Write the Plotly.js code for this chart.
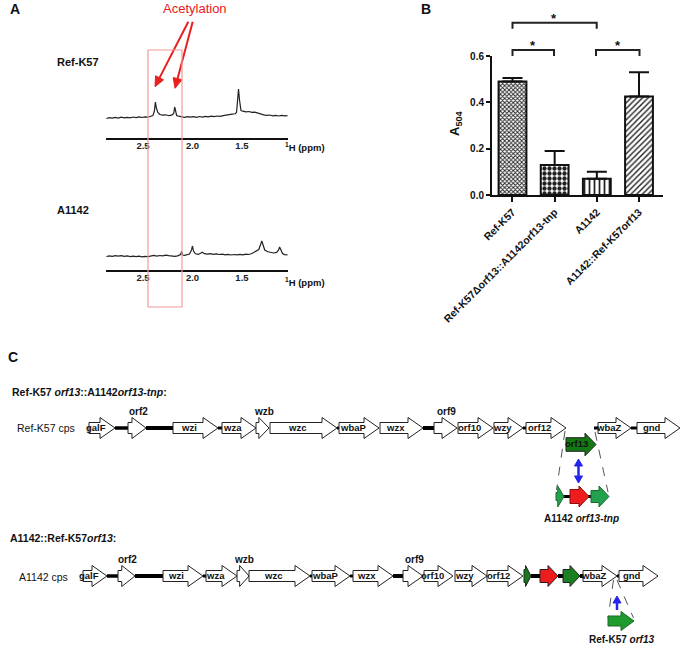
<!DOCTYPE html>
<html><head><meta charset="utf-8">
<script src="https://cdn.plot.ly/plotly-3.0.1.min.js"></script>
<style>html,body{margin:0;padding:0;background:#fff}#chart{width:685px;height:648px}</style>
</head><body><div id="chart"></div>
<script>
// ---------------- DATA ----------------
// Panel A: 1H NMR spectra (ppm, intensity in arbitrary units)
const topPpm = [2.87,2.84,2.81,2.78,2.75,2.72,2.69,2.66,2.63,2.60,2.57,2.54,2.51,2.48,2.45,2.42,
  2.40,2.385,2.375,2.365,2.35,2.33,2.30,2.27,2.24,2.21,
  2.19,2.18,2.17,2.16,2.14,2.11,2.08,2.05,2.02,1.99,
  1.96,1.93,1.90,1.87,1.84,1.81,1.78,1.75,1.72,1.69,
  1.66,1.63,1.60,1.57,1.555,1.545,1.535,1.525,1.51,1.49,
  1.46,1.43,1.40,1.37,1.34,1.31,1.28,1.25,1.22,1.19,
  1.16,1.13,1.10,1.07,1.04];
const topInt = [19.5,20.3,19.8,20.6,19.9,20.8,20.1,20.7,20.2,21.0,20.4,21.1,20.5,21.2,20.8,21.6,
  22.4,27,36,30,25.5,23.5,22.8,23.2,22.3,22.9,
  24.5,31,27,22.5,21.8,21.3,20.6,21.4,20.8,21.3,
  20.7,21.5,20.9,21.6,21.1,21.8,21.3,22.0,21.6,22.4,
  22.6,23.4,23.8,24.2,25.5,40,49,38,27.5,26.8,
  26.2,26.5,25.6,25.9,24.8,24.2,23.1,22.6,23.0,22.2,
  22.7,22.0,22.6,22.1,22.4];
const botPpm = [2.87,2.84,2.81,2.78,2.75,2.72,2.69,2.66,2.63,2.60,2.57,2.54,2.51,2.48,2.45,2.42,2.39,2.36,2.33,2.30,
  2.27,2.24,2.21,2.18,2.15,2.12,2.11,2.10,2.08,2.05,
  2.03,2.01,2.00,1.99,1.97,1.94,1.92,1.90,1.88,1.85,
  1.82,1.79,1.76,1.73,1.70,1.67,1.64,1.61,1.58,1.55,
  1.52,1.49,1.46,1.43,1.40,1.37,1.35,1.33,1.31,1.30,
  1.29,1.27,1.24,1.21,1.18,1.15,1.13,1.12,1.11,1.09,
  1.07,1.05,1.04];
const botInt = [13.5,14.2,13.7,14.4,13.8,14.3,13.6,14.1,13.4,13.9,13.3,13.8,13.2,13.7,13.4,14.0,14.6,13.9,14.5,14.2,
  14.8,14.3,14.0,13.6,14.1,15.5,18.5,15.0,14.6,15.2,
  16.0,20,24,19,16.2,15.6,16.4,17.8,16.3,15.9,
  16.4,15.7,16.2,15.5,15.9,15.2,15.7,15.0,15.5,15.1,
  15.6,15.2,15.8,15.5,16.5,18.5,19.0,20.5,26,29,
  26,20,18.2,17.4,17.0,17.6,20,23,20.5,16.5,
  15.4,14.8,15.2];
const ppmTicks = [2.5, 2.0, 1.5];
const ppmTickText = ['2.5', '2.0', '1.5'];

// Panel B: A504 by strain
const strains = ['Ref-K57', 'Ref-K57\u0394orf13::A1142orf13-tnp', 'A1142', 'A1142::Ref-K57orf13'];
const a504 = [0.49, 0.13, 0.07, 0.425];
const a504Err = [0.015, 0.06, 0.03, 0.105];
const a504Ticks = [0, 0.2, 0.4, 0.6];
const a504TickText = ['0.0', '0.2', '0.4', '0.6'];

// Panel C: gene names
const row1Genes = ['galF','orf2','wzi','wza','wzb','wzc','wbaP','wzx','orf9','orf10','wzy','orf12','orf13','wbaZ','gnd'];
const row2Genes = ['galF','orf2','wzi','wza','wzb','wzc','wbaP','wzx','orf9','orf10','wzy','orf12','','','','wbaZ','gnd'];

// ---------------- GEOMETRY (pixels) ----------------
const W = 685, H = 648;
const X = p => p / W;
const Y = p => 1 - p / H;
const FONT = 'Liberation Sans, Arial, sans-serif';

const row1Ext = [[89,115],[128,146],[173,218],[222,256],[256,269],[270,337],[339,379],[380,423],[434,457],[458,493],[494,523],[526,566],[566,596],[598,631],[637,680]];
const row1Lbl = ['in','above','in','in','above','in','in','in','above','in','in','in','in','in','in'];
const row1Fill = row1Genes.map((g,i)=> i===12 ? '#137a13' : '#ffffff');
const row1Cy = row1Genes.map((g,i)=> i===12 ? 444.5 : 428);
const row1Links = [[115,128,3.5],[146,173,4],[218,222,3],[337,339,3],[423,434,4],[523,526,3],[594,598,3],[631,637,3]];

const row2Ext = [[83,107],[118,135],[163,203],[206,237],[237,249],[249,310],[312,350],[353,393],[403,423],[424,453],[455,487],[487,523],[524,531],[540,558],[563,580],[583,617],[619,658]];
const row2Lbl = ['in','above','in','in','above','in','in','in','above','in','in','in','none','none','none','in','in'];
const row2Fill = ['#fff','#fff','#fff','#fff','#fff','#fff','#fff','#fff','#fff','#fff','#fff','#fff','#177a17','#ee1c1c','#1a7f22','#fff','#fff'];
const row2Links = [[107,118,3.5],[135,163,4],[203,206,3],[310,312,3],[350,353,3],[393,403,4],[531,540,4],[558,563,4],[580,583,4],[617,619,3]];
const row2Cy = 576;

const shapes = [];
const ann = [];

function arrowPath(x0, x1, c, hb, hh, hl) {
  const L = Math.min(hl, (x1 - x0) * 0.78);
  const xb = x1 - L;
  return `M${X(x0)},${Y(c-hb)} L${X(xb)},${Y(c-hb)} L${X(xb)},${Y(c-hh)} L${X(x1)},${Y(c)} L${X(xb)},${Y(c+hh)} L${X(xb)},${Y(c+hb)} L${X(x0)},${Y(c+hb)} Z`;
}
function addArrow(x0, x1, c, fill, hb=5.5, hh=10.5, hl=15, lc='#222') {
  shapes.push({type:'path', xref:'paper', yref:'paper', path: arrowPath(x0,x1,c,hb,hh,hl),
    fillcolor: fill, line:{color: lc, width: 1}, layer:'above'});
}
function addLine(x0, y0, x1, y1, color, width, dash) {
  shapes.push({type:'line', xref:'paper', yref:'paper', x0:X(x0), y0:Y(y0), x1:X(x1), y1:Y(y1),
    line:{color: color, width: width, dash: dash || 'solid'}, layer:'above'});
}
function addText(x, y, text, size, opts) {
  ann.push(Object.assign({xref:'paper', yref:'paper', x:X(x), y:Y(y), text:text, showarrow:false,
    xanchor:'center', yanchor:'middle', font:{family:FONT, size:size, color:'#111'}}, opts || {}));
}
function addTri(x, yTip, dir, color) { // dir -1 up, +1 down
  const hw = 4, hl = 7;
  const yb = yTip - dir * hl;
  shapes.push({type:'path', xref:'paper', yref:'paper',
    path:`M${X(x-hw)},${Y(yb)} L${X(x)},${Y(yTip)} L${X(x+hw)},${Y(yb)} Z`,
    fillcolor: color, line:{color: color, width: 1}, layer:'above'});
}

// Panel labels
addText(8, 9, '<b>A</b>', 14, {xanchor:'left'});
addText(419, 9, '<b>B</b>', 14, {xanchor:'left'});
addText(6, 357, '<b>C</b>', 14, {xanchor:'left'});

// Panel A texts
addText(195, 8, 'Acetylation', 13, {font:{family:FONT, size:13, color:'#e82020'}});
addText(55, 62, '<b>Ref-K57</b>', 11, {xanchor:'left'});
addText(55, 210, '<b>A1142</b>', 11, {xanchor:'left'});
addText(283, 147, '<b><sup>1</sup>H (ppm)</b>', 9.5, {xanchor:'left'});
addText(283, 282, '<b><sup>1</sup>H (ppm)</b>', 9.5, {xanchor:'left'});
// acetylation arrows (drawn as line + head shapes)
function redArrow(tx, ty, fx, fy) {
  addLine(fx, fy, tx - (tx-fx)*0.12, ty - (ty-fy)*0.12, '#e82020', 2);
  const dx = tx - fx, dy = ty - fy, len = Math.hypot(dx, dy);
  const ux = dx/len, uy = dy/len, hl = 10, hw = 4.5;
  const bx = tx - ux*hl, by = ty - uy*hl;
  shapes.push({type:'path', xref:'paper', yref:'paper',
    path:`M${X(tx)},${Y(ty)} L${X(bx - uy*hw)},${Y(by + ux*hw)} L${X(bx + uy*hw)},${Y(by - ux*hw)} Z`,
    fillcolor:'#e82020', line:{color:'#e82020', width:1}, layer:'above'});
}
redArrow(155, 86.7, 188.3, 21.7);
redArrow(175, 88.3, 192.7, 21.7);
// red box
shapes.push({type:'rect', xref:'paper', yref:'paper', x0:X(148), x1:X(182), y0:Y(50), y1:Y(307),
  line:{color:'#f29a9a', width:1.2}, fillcolor:'rgba(0,0,0,0)', layer:'above'});

// Panel B annotations
addText(455, 123, '<b>A<sub>504</sub></b>', 13, {textangle:-90});
function bracket(xa, xb, yTop, leg) {
  shapes.push({type:'path', xref:'paper', yref:'paper',
    path:`M${X(xa)},${Y(yTop+leg)} L${X(xa)},${Y(yTop)} L${X(xb)},${Y(yTop)} L${X(xb)},${Y(yTop+leg)}`,
    line:{color:'#222', width:2}, layer:'above'});
}
bracket(512.5, 596.7, 22.7, 6);
bracket(512.5, 554, 50, 6);
bracket(596, 639.5, 50, 6);
addText(554, 18, '<b>*</b>', 13);
addText(533, 46, '<b>*</b>', 13);
addText(618, 46, '<b>*</b>', 13);

// Panel C texts
addText(10, 392, '<b>Ref-K57 <i>orf13</i>::A1142<i>orf13-tnp</i>:</b>', 10.5, {xanchor:'left'});
addText(15, 428, 'Ref-K57 cps', 10.5, {xanchor:'left'});
addText(8, 538, '<b>A1142::Ref-K57<i>orf13</i>:</b>', 10.5, {xanchor:'left'});
addText(17, 577, 'A1142 cps', 10.5, {xanchor:'left'});

// Row 1
row1Links.forEach(l => addLine(l[0], 428, l[1], 428, '#000', l[2]));
row1Genes.forEach((g, i) => {
  const [x0, x1] = row1Ext[i];
  const c = row1Cy[i];
  addArrow(x0, x1, c, row1Fill[i], i===12 ? 6.8 : 5.5, i===12 ? 11.3 : 10.5, i===12 ? 11 : 15);
  const L = Math.min(i===12 ? 11 : 15, (x1-x0)*0.78);
  if (row1Lbl[i] === 'in') addText((x0 + x1 - L) / 2 + 1, c - 1, '<b>' + g + '</b>', 9.5);
  else if (row1Lbl[i] === 'above') addText((x0 + x1) / 2 + 1, 411, '<b>' + g + '</b>', 10);
});
// row 1 insertion detail
addLine(565, 431, 556.5, 490, '#555', 1, 'dash');
addLine(595, 432, 608, 492, '#555', 1, 'dash');
addLine(578.5, 465, 578.5, 477, '#2424ee', 2.5);
addTri(578.5, 459, -1, '#2424ee');
addTri(578.5, 483, 1, '#2424ee');
addLine(563, 496.5, 592, 496.5, '#000', 3);
addArrow(556, 564, 496.5, '#22a24f', 4, 10.5, 7, '#1a6a2a');
addArrow(570, 589, 496.5, '#ee1c1c', 7, 10.5, 10, '#8a1010');
addArrow(591, 609, 496.5, '#22a24f', 6, 10.5, 10, '#1a6a2a');
addText(581, 518, '<b>A1142 <i>orf13-tnp</i></b>', 10);

// Row 2
row2Links.forEach(l => addLine(l[0], row2Cy, l[1], row2Cy, '#000', l[2]));
row2Genes.forEach((g, i) => {
  const [x0, x1] = row2Ext[i];
  const isCol = row2Fill[i] !== '#fff';
  addArrow(x0, x1, row2Cy, row2Fill[i], isCol ? 6.5 : 5.5, 10.5, isCol ? 10 : 15);
  const L = Math.min(15, (x1-x0)*0.78);
  if (row2Lbl[i] === 'in') addText((x0 + x1 - L) / 2 + 1, row2Cy - 1, '<b>' + g + '</b>', 9.5);
  else if (row2Lbl[i] === 'above') addText((x0 + x1) / 2 + 1, 559, '<b>' + g + '</b>', 10);
});
addLine(613.5, 580, 608, 618, '#555', 1, 'dash');
addLine(617, 580, 633.5, 618, '#555', 1, 'dash');
addLine(617, 602, 617, 610, '#2424ee', 2.5);
addTri(617, 596, -1, '#2424ee');
addArrow(608, 634, 621, '#1f9a2c', 5, 9.5, 13, '#1a6a2a');
addText(621, 639, '<b>Ref-K57 <i>orf13</i></b>', 10);

// ---------------- TRACES ----------------
const specLine = {color:'#222', width:1.2};
const traces = [
  {x: topPpm, y: topInt, xaxis:'x', yaxis:'y', type:'scatter', mode:'lines', line:specLine, hoverinfo:'skip'},
  {x: botPpm, y: botInt, xaxis:'x2', yaxis:'y2', type:'scatter', mode:'lines', line:specLine, hoverinfo:'skip'},
  {x: strains, y: a504, xaxis:'x3', yaxis:'y3', type:'bar', width:0.66,
    marker:{color:'#ffffff', line:{color:'#111', width:2},
      pattern:{shape:['x','.','|','/'], size:[3,5,5,4], solidity:[0.5,0.6,0.35,0.35],
        fgcolor:'#222', bgcolor:'#ffffff', fillmode:'replace'}},
    error_y:{type:'data', symmetric:false, array:a504Err, arrayminus:[0,0,0,0], color:'#111', thickness:2, width:10},
    hoverinfo:'skip'}
];

const specX = (dom) => ({domain:dom, range:[2.874, 1.035], showline:true, linecolor:'#111', linewidth:2.2,
  ticks:'', tickvals:ppmTicks, ticktext:ppmTickText, showgrid:false, zeroline:false, ticklabelstandoff:-3,
  tickfont:{family:FONT, size:9.5, color:'#222', weight:'bold'}, fixedrange:true});
const specY = (dom, anc) => ({domain:dom, range:[0,60], visible:false, anchor:anc, fixedrange:true});

const layout = {
  width: W, height: H, autosize:false,
  margin:{l:0, r:0, t:0, b:0, pad:0},
  paper_bgcolor:'#fff', plot_bgcolor:'rgba(0,0,0,0)',
  showlegend:false, hovermode:false,
  xaxis: Object.assign(specX([X(106), X(288)]), {anchor:'y'}),
  yaxis: specY([Y(138), Y(78)], 'x'),
  xaxis2: Object.assign(specX([X(106), X(288)]), {anchor:'y2'}),
  yaxis2: specY([Y(270), Y(210)], 'x2'),
  xaxis3: {domain:[X(492), X(663)], anchor:'y3', type:'category', range:[-0.486, 3.569],
    showline:true, linecolor:'#111', linewidth:2, ticks:'outside', ticklen:5, tickwidth:2, tickcolor:'#111',
    tickangle:-45, tickfont:{family:FONT, size:10.5, color:'#111', weight:'bold'},
    showgrid:false, zeroline:false, fixedrange:true},
  yaxis3: {domain:[Y(195), Y(56)], anchor:'x3', range:[0, 0.6], tickvals:a504Ticks, ticktext:a504TickText,
    showline:true, linecolor:'#111', linewidth:2, ticks:'outside', ticklen:4, tickwidth:2, tickcolor:'#111',
    tickfont:{family:FONT, size:10, color:'#111', weight:'bold'},
    showgrid:false, zeroline:false, fixedrange:true},
  shapes: shapes,
  annotations: ann
};

Plotly.newPlot('chart', traces, layout, {staticPlot:true, displayModeBar:false});
</script>
</body></html>
